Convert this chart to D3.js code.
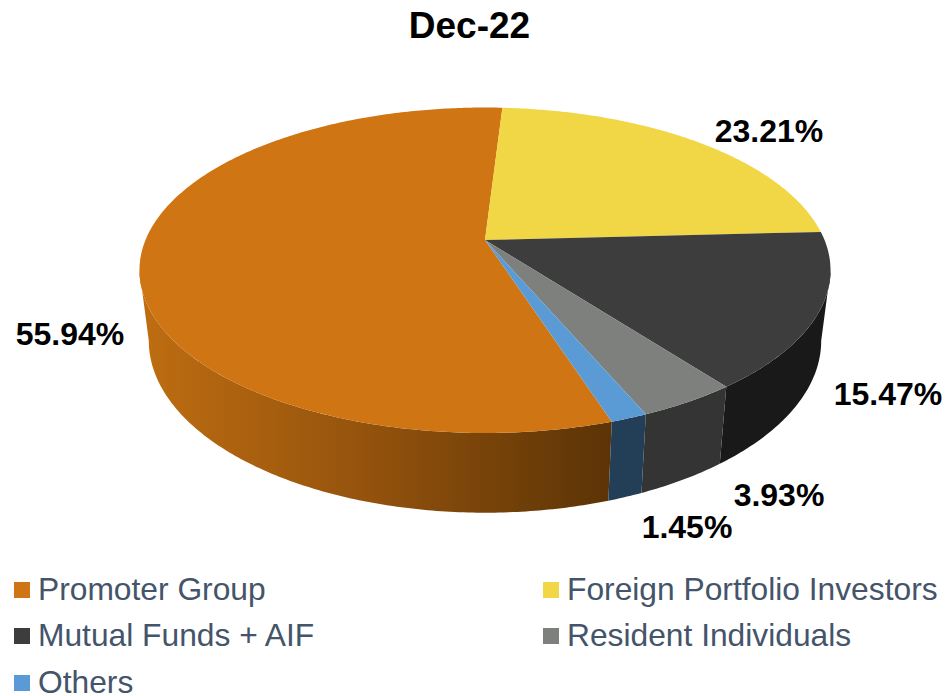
<!DOCTYPE html>
<html>
<head>
<meta charset="utf-8">
<script src="https://cdn.jsdelivr.net/npm/d3@7"></script>
<style>
  html, body { margin: 0; padding: 0; background: #ffffff; }
  svg { display: block; }
  text { font-family: "Liberation Sans", Arial, sans-serif; }
</style>
</head>
<body>
<div id="chart"></div>
<script>
var chartTitle = "Dec-22";
var categories = ["Promoter Group", "Foreign Portfolio Investors", "Mutual Funds + AIF", "Resident Individuals", "Others"];
var shareValues = [55.94, 23.21, 15.47, 3.93, 1.45];
var shareLabels = ["55.94%", "23.21%", "15.47%", "3.93%", "1.45%"];
var topColors = ["#d07513", "#f1d645", "#3d3d3d", "#7e807e", "#5b9bd5"];
var wallColors = [null, "#8a7a20", "#191919", "#343434", "#233f58"];

var width = 946, height = 696;

var svg = d3.select("#chart").append("svg")
    .attr("width", width)
    .attr("height", height);

// Perspective of the upper disc: the apex sits above the middle of the ellipse
var apexX = 485, apexY = 240;
var tilt = 0.186, scaleU = 339.5, scaleV = 157.1;
// The lower disc is the upper one, a bit narrower and a bit more open
var lowerScaleX = 0.973, lowerScaleY = 1.057, lowerY = 308.7;
// The wall is visible between the two points where the rim is widest
var visibleFrom = Math.acos(-tilt);
var visibleTo = 2 * Math.PI - visibleFrom;

// Angle is measured clockwise from the top of the disc
function project(angle, r) {
  var u = r * Math.sin(angle), v = -r * Math.cos(angle);
  var w = 1 - tilt * v;
  return [apexX + scaleU * u / w, apexY + scaleV * v / w];
}

function projectLower(angle) {
  var p = project(angle, 1);
  return [apexX + lowerScaleX * (p[0] - apexX), lowerY + lowerScaleY * (p[1] - apexY)];
}

var firstAngle = 162.1 * Math.PI / 180;
var pie = d3.pie().sort(null)
    .startAngle(firstAngle)
    .endAngle(firstAngle + 2 * Math.PI);
var slices = pie(shareValues);

function arcSamples(a0, a1) {
  var n = Math.max(2, Math.ceil((a1 - a0) * 90));
  return d3.range(n + 1).map(function(i) { return a0 + (a1 - a0) * i / n; });
}

var line = d3.line();

// The promoter wall darkens from left to right
var defs = svg.append("defs");
var wallGrad = defs.append("linearGradient")
    .attr("id", "promoterWall")
    .attr("gradientUnits", "userSpaceOnUse")
    .attr("x1", projectLower(visibleTo)[0]).attr("y1", 0)
    .attr("x2", projectLower(firstAngle)[0]).attr("y2", 0);
wallGrad.append("stop").attr("offset", "0%").attr("stop-color", "#bd6c11");
wallGrad.append("stop").attr("offset", "45%").attr("stop-color", "#96540d");
wallGrad.append("stop").attr("offset", "100%").attr("stop-color", "#5c3406");

// Walls first, the top faces go over them
slices.forEach(function(s, i) {
  var shift = s.startAngle >= 2 * Math.PI ? 2 * Math.PI : 0;
  var a0 = Math.max(s.startAngle - shift, visibleFrom);
  var a1 = Math.min(s.endAngle - shift, visibleTo);
  if(a1 <= a0) return;
  var samples = arcSamples(a0, a1);
  var pts = samples.map(function(a) { return project(a, 1); })
      .concat(samples.slice().reverse().map(projectLower));
  svg.append("path")
      .attr("d", line(pts) + "Z")
      .attr("fill", i == 0 ? "url(#promoterWall)" : wallColors[i]);
});

slices.forEach(function(s, i) {
  var pts = [[apexX, apexY]].concat(arcSamples(s.startAngle, s.endAngle).map(function(a) { return project(a, 1); }));
  svg.append("path")
      .attr("d", line(pts) + "Z")
      .attr("fill", topColors[i]);
});

svg.append("text")
    .text(chartTitle)
    .attr("x", 469.5)
    .attr("y", 38)
    .attr("text-anchor", "middle")
    .attr("font-weight", "bold")
    .attr("font-size", 37)
    .attr("fill", "#000000");

// Data labels, placed by hand as in the original
var labelSpots = [[70, 345], [769, 142], [888, 405], [779, 506], [687, 538]];
shareLabels.forEach(function(label, i) {
  svg.append("text")
      .text(label)
      .attr("x", labelSpots[i][0])
      .attr("y", labelSpots[i][1])
      .attr("text-anchor", "middle")
      .attr("font-weight", "bold")
      .attr("font-size", 32)
      .attr("fill", "#000000");
});

// Legend runs over two columns
var legendX = [14, 543], legendY = [582, 628, 675];
categories.forEach(function(name, i) {
  var x = legendX[i % 2], y = legendY[Math.floor(i / 2)];
  svg.append("rect")
      .attr("x", x).attr("y", y)
      .attr("width", 16).attr("height", 16)
      .attr("fill", topColors[i]);
  svg.append("text")
      .text(name)
      .attr("x", x + 24)
      .attr("y", y + 18)
      .attr("font-size", 31.75)
      .attr("fill", "#44546a");
});
</script>
</body>
</html>
